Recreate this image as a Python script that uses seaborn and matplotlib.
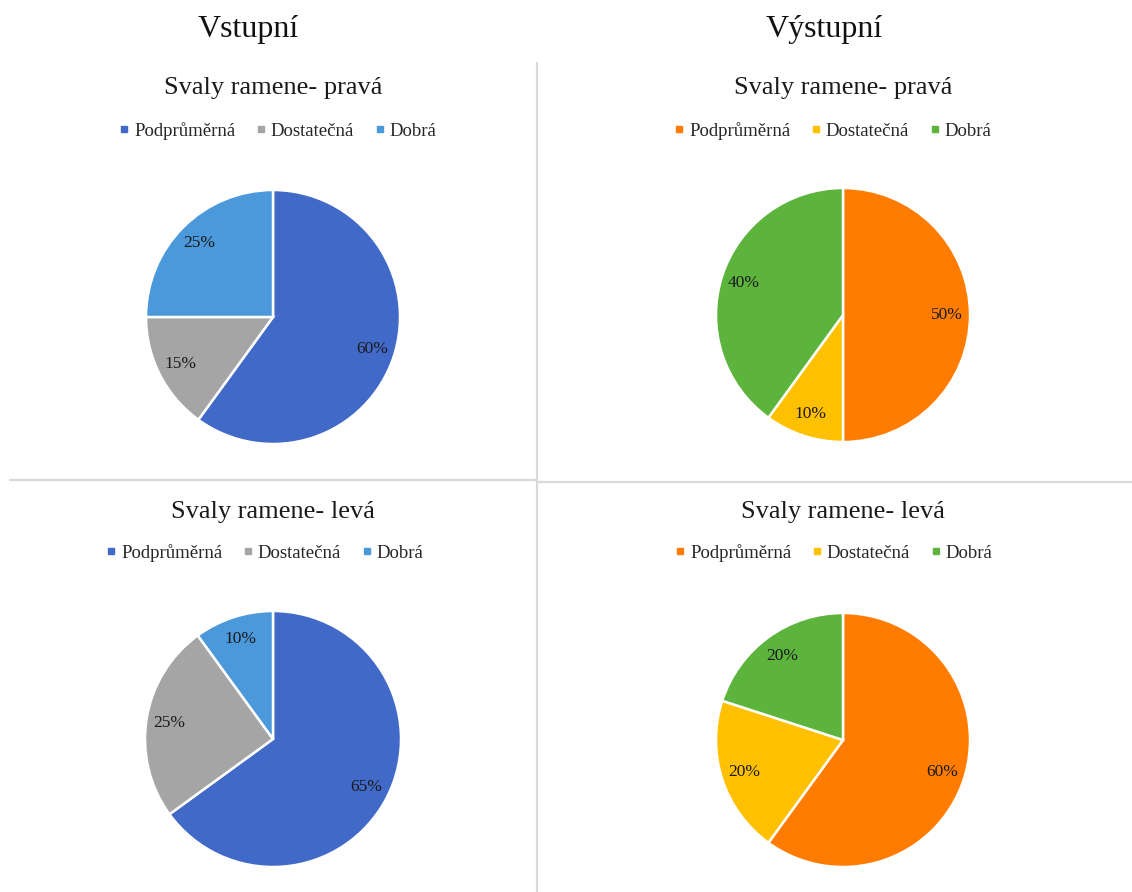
import matplotlib
matplotlib.use("Agg")
import matplotlib.pyplot as plt
from matplotlib.lines import Line2D
import seaborn as sns

sns.set_theme(style="white")
plt.rcParams["font.family"] = ["Liberation Serif", "DejaVu Serif"]

categories = ["Podprůměrná", "Dostatečná", "Dobrá"]
column_titles = ["Vstupní", "Výstupní"]
chart_titles = ["Svaly ramene- pravá", "Svaly ramene- levá"]

vstup_prava = [60, 15, 25]
vstup_leva = [65, 25, 10]
vystup_prava = [50, 10, 40]
vystup_leva = [60, 20, 20]

colors_vstup = ["#4169c8", "#a5a5a5", "#4b98db"]
colors_vystup = ["#ff7c00", "#ffc000", "#5db43c"]

W, H = 1132, 892
fig = plt.figure(figsize=(W / 100, H / 100), dpi=100)
fig.patch.set_facecolor("white")


def px(x, y):
    return x / W, 1 - y / H


def draw_pie(values, colors, cx, cy, r, title, title_y, legend_x, legend_y):
    ax = fig.add_axes([(cx - r) / W, 1 - (cy + r) / H, 2 * r / W, 2 * r / H])
    ax.pie(values, colors=colors, startangle=90, counterclock=False,
           labels=[f"{v}%" for v in values], labeldistance=0.82,
           textprops=dict(fontsize=12.5, color="#1a1a1a", ha="center", va="center"),
           wedgeprops=dict(edgecolor="white", linewidth=1.8))
    ax.set_xlim(-1, 1)
    ax.set_ylim(-1, 1)
    ax.set_aspect("equal")
    ax.axis("off")
    tx, ty = px(cx, title_y)
    fig.text(tx, ty, title, ha="center", va="center", fontsize=19, color="#1a1a1a")
    handles = [Line2D([], [], marker="s", linestyle="", markersize=5,
                      markerfacecolor=c, markeredgecolor=c) for c in colors]
    lx, ly = px(legend_x, legend_y)
    fig.legend(handles, categories, loc="center", bbox_to_anchor=(lx, ly),
               ncol=3, frameon=False, fontsize=13.5, handletextpad=0.2,
               columnspacing=1.0, handlelength=0.7, borderpad=0, borderaxespad=0)


draw_pie(vstup_prava, colors_vstup, 273, 317, 127, chart_titles[0], 88, 277, 131)
draw_pie(vystup_prava, colors_vystup, 843, 315, 127, chart_titles[0], 88, 832, 131)
draw_pie(vstup_leva, colors_vstup, 273, 739, 128, chart_titles[1], 512, 264, 553)
draw_pie(vystup_leva, colors_vystup, 843, 740, 127, chart_titles[1], 512, 833, 553)

for x, t in zip([248, 824], column_titles):
    fx, fy = px(x, 29)
    fig.text(fx, fy, t, ha="center", va="center", fontsize=23, color="#111111")

sep = "#d9d9d9"
fig.add_artist(Line2D([537 / W, 537 / W], [1 - 63 / H, 0], transform=fig.transFigure,
                      color=sep, linewidth=1.6))
fig.add_artist(Line2D([10 / W, 537 / W], [1 - 480 / H, 1 - 480 / H], transform=fig.transFigure,
                      color=sep, linewidth=1.6))
fig.add_artist(Line2D([538 / W, 1], [1 - 482 / H, 1 - 482 / H], transform=fig.transFigure,
                      color=sep, linewidth=1.6))

fig.savefig("out.png", dpi=100, facecolor="white")
